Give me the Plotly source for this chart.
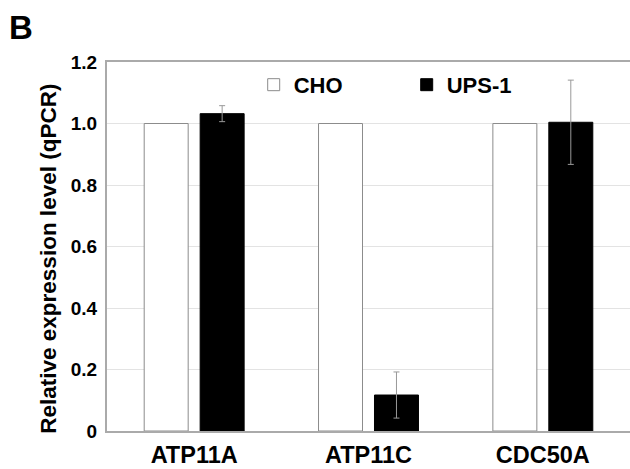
import plotly.graph_objects as go

genes = ["ATP11A", "ATP11C", "CDC50A"]
cho_values = [1.0, 1.0, 1.0]
ups_values = [1.032, 0.117, 1.004]
ups_errors = [0.026, 0.075, 0.137]
y_ticks = [0, 0.2, 0.4, 0.6, 0.8, 1.0, 1.2]
y_tick_text = ["0", "0.2", "0.4", "0.6", "0.8", "1.0", "1.2"]

FONT = "Liberation Sans, Arial, sans-serif"

fig = go.Figure()
fig.add_trace(go.Bar(
    name="CHO", x=genes, y=cho_values,
    marker=dict(color="white", line=dict(color="#8c8c8c", width=1)),
))
fig.add_trace(go.Bar(
    name="UPS-1", x=genes, y=ups_values,
    marker=dict(color="black", line=dict(color="black", width=1)),
    error_y=dict(type="data", array=ups_errors, color="#999999", thickness=1, width=3),
))

fig.update_layout(
    width=630, height=469,
    margin=dict(l=107, r=0, t=62, b=38, autoexpand=False),
    paper_bgcolor="white", plot_bgcolor="white",
    barmode="group", bargap=0.358, bargroupgap=0.214,
    font=dict(family=FONT, color="black"),
    showlegend=True,
    legend=dict(
        orientation="h", x=0.2805, y=0.938, xanchor="left", yanchor="middle",
        font=dict(family=FONT, size=22, color="black", weight="bold"),
        bgcolor="rgba(0,0,0,0)", itemwidth=30,
        entrywidth=108, entrywidthmode="pixels",
    ),
    annotations=[
        dict(text="<b>B</b>", x=-0.191, y=1.150, xref="paper", yref="paper",
             xanchor="left", yanchor="top", showarrow=False,
             font=dict(family=FONT, size=33, color="black")),
        dict(text="<b>Relative expression level (qPCR)</b>", textangle=-90,
             x=-0.112, y=0.468, xref="paper", yref="paper",
             xanchor="center", yanchor="middle", showarrow=False,
             font=dict(family=FONT, size=22.5, color="black")),
    ],
)
fig.update_xaxes(
    showline=True, mirror=True, linecolor="#aaaaaa", linewidth=2,
    showgrid=False, ticks="", automargin=False, ticklabelstandoff=2,
    tickfont=dict(family=FONT, size=23.5, color="black", weight="bold"),
)
fig.update_yaxes(
    range=[0, 1.2], tickvals=y_ticks, ticktext=y_tick_text,
    showline=True, linecolor="#aaaaaa", linewidth=2,
    showgrid=True, gridcolor="#e3e3e3", gridwidth=1,
    zeroline=False, ticks="", ticklabelstandoff=4, automargin=False,
    tickfont=dict(family=FONT, size=19, color="black", weight="bold"),
)

fig.write_html("out.html", config={"displayModeBar": False},
               post_script="document.body.style.margin='0';")
